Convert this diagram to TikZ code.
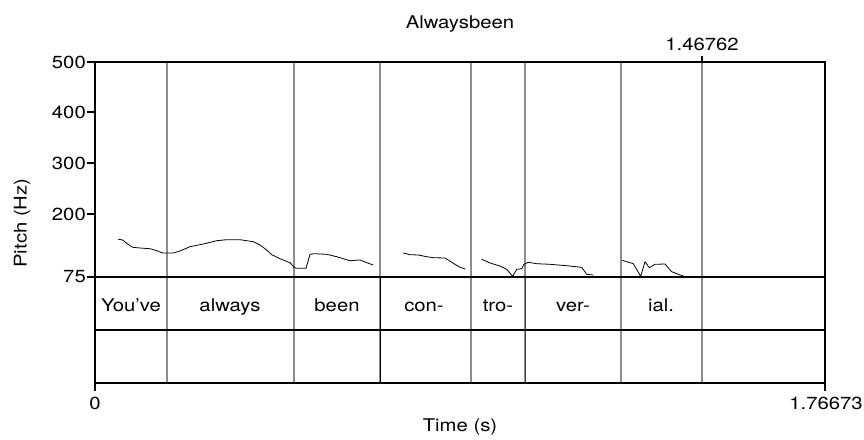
\documentclass[tikz,border=0pt]{standalone}
\usepackage{fontspec}
\setmainfont[FakeStretch=1.16]{TeX Gyre Heros}

\begin{document}
\begin{tikzpicture}[x=1pt,y=-1pt,
	txt_node/.style={inner sep=0pt,font=\fontsize{17.5}{20}\selectfont},
	frame_line/.style={line width=1.3pt},
	bound_line/.style={line width=1.4pt,black!45},
	tier_line/.style={line width=0.9pt},
	pitch_line/.style={line width=0.8pt,line join=round}]

		\useasboundingbox (0,0) rectangle (864,439);

		% title and axis labels
		\node[txt_node,anchor=base] (title) at (460,28) {Alwaysbeen};
		\node[txt_node,anchor=base] (cursor) at (702,50) {1.46762};
		\node[txt_node,anchor=base] (t0) at (95,409) {0};
		\node[txt_node,anchor=base] (t1) at (826,409) {1.76673};
		\node[txt_node,anchor=base] (xlabel) at (460,431) {Time (s)};
		\node[txt_node,rotate=90] (ylabel) at (22,223) {Pitch (Hz)};

		\node[txt_node,anchor=east] (p500) at (86,62) {500};
		\node[txt_node,anchor=east] (p400) at (86,112) {400};
		\node[txt_node,anchor=east] (p300) at (86,163) {300};
		\node[txt_node,anchor=east] (p200) at (86,214) {200};
		\node[txt_node,anchor=east] (p75) at (86,277) {75};

		% boundaries
		\draw[bound_line] (167,62) -- (167,383);
		\draw[bound_line] (294,62) -- (294,383);
		\draw[bound_line] (380,62) -- (380,383);
		\draw[bound_line] (471,62) -- (471,383);
		\draw[bound_line] (525,62) -- (525,383);
		\draw[bound_line] (621,62) -- (621,383);
		\draw[bound_line] (702,62) -- (702,383);
		\draw[tier_line] (380,277) -- (380,383);
		\draw[tier_line,black!75] (525,277) -- (525,383);

		% frame and ticks
		\draw[frame_line] (95,62) -- (825,62) -- (825,383) -- (95,383) -- cycle;
		\draw[frame_line] (95,277) -- (825,277);
		\draw[frame_line] (95,330) -- (825,330);
		\draw[frame_line] (702,62) -- (702,56);
		\draw[frame_line] (95,383) -- (95,391);
		\draw[frame_line] (825,383) -- (825,391);
		\draw[frame_line] (87,62) -- (95,62);
		\draw[frame_line] (87,112) -- (95,112);
		\draw[frame_line] (87,163) -- (95,163);
		\draw[frame_line] (87,214) -- (95,214);
		\draw[frame_line] (87,277) -- (95,277);

		% words
		\node[txt_node,anchor=base] (w1) at (131,311) {You’ve};
		\node[txt_node,anchor=base] (w2) at (230,311) {always};
		\node[txt_node,anchor=base] (w3) at (337,311) {been};
		\node[txt_node,anchor=base] (w4) at (424,311) {con-};
		\node[txt_node,anchor=base] (w5) at (498,311) {tro-};
		\node[txt_node,anchor=base] (w6) at (573,311) {ver-};
		\node[txt_node,anchor=base] (w7) at (661,311) {ial.};

		% pitch
		\draw[pitch_line] (118.3,239.3) -- (122.7,240) -- (126.7,243.3) -- (132.7,247.3)
			-- (140,248) -- (150,248.7) -- (156.7,250.7) -- (162.7,253) -- (173.3,253)
			-- (180,251) -- (190,246.7) -- (203.3,244) -- (216.7,240.7) -- (226.7,239.7)
			-- (240,239.7) -- (253.3,241.7) -- (260,245) -- (266.7,250) -- (271.7,254.7)
			-- (280,258.7) -- (290,262.7) -- (294,267) -- (296,268.3) -- (306,268.3)
			-- (310,254.3) -- (314,253.7) -- (326.7,254.3) -- (336.7,256.7) -- (350,260.7)
			-- (360,260) -- (366.7,262.7) -- (373.3,265);
		\draw[pitch_line] (403.3,253) -- (410,254.7) -- (418.3,255) -- (426.7,256.7)
			-- (433.3,257.7) -- (445,258) -- (451.7,262.3) -- (460,267.3) -- (465,269);
		\draw[pitch_line] (481.7,259.3) -- (485,260.7) -- (490,263) -- (500,266)
			-- (506.7,269.3) -- (512.7,276.3) -- (516.7,269.3) -- (521.7,268.7)
			-- (524,264.3) -- (528.3,262.3) -- (536.7,263.7) -- (550,264.3)
			-- (566.7,265.7) -- (581.7,267.3) -- (586.7,274.3) -- (593.3,275);
		\draw[pitch_line] (622.3,260.3) -- (626.7,261.7) -- (633.3,263.7) -- (640.7,276.3)
			-- (645,261.7) -- (649.3,267.7) -- (655,264.3) -- (665,264) -- (671.7,271.7)
			-- (676.7,273.7) -- (685,276.7);
\end{tikzpicture}
\end{document}
